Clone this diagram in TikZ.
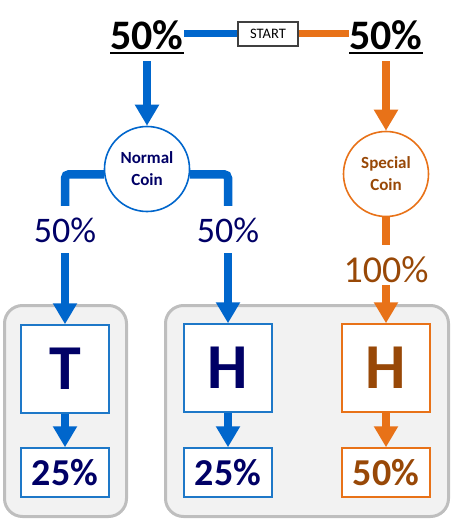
\documentclass[tikz,border=0pt]{standalone}
\usepackage{fontspec}
\setmainfont{Carlito}
\usetikzlibrary{arrows.meta}
\definecolor{cblue}{RGB}{0,102,204}
\definecolor{corange}{RGB}{232,114,24}
\definecolor{cnavy}{RGB}{0,0,102}
\definecolor{cbrown}{RGB}{152,72,7}
\definecolor{boxblue}{RGB}{30,120,200}
\definecolor{panelfill}{RGB}{242,242,242}
\definecolor{paneldraw}{RGB}{190,190,190}
\begin{document}
\begin{tikzpicture}[x=1pt,y=-1pt,
  panel/.style={draw=paneldraw, fill=panelfill, line width=3pt, rounded corners=18pt, inner sep=0pt},
  bigpct/.style={font=\fontsize{42}{44}\selectfont\bfseries, inner xsep=0pt, inner ysep=3pt, text height=27pt, text depth=0pt, anchor=base},
  uline/.style={line width=2.5pt, black},
  startbox/.style={draw=black!75, line width=1.2pt, fill=white, minimum width=60pt, minimum height=24pt, inner sep=0pt, font=\fontsize{14.5}{16}\selectfont},
  coin/.style={circle, line width=1.6pt, fill=white, minimum size=85pt, inner sep=0pt, font=\fontsize{17}{22}\selectfont\bfseries, align=center},
  midpct/.style={font=\fontsize{36}{40}\selectfont, inner sep=0pt, text height=24pt, text depth=0pt, anchor=base},
  outbox/.style={line width=1.5pt, fill=white, minimum width=88pt, minimum height=88pt, inner sep=0pt, font=\fontsize{64}{66}\selectfont\bfseries},
  pctbox/.style={line width=1.5pt, fill=white, minimum width=88pt, minimum height=49pt, inner sep=0pt, font=\fontsize{38}{40}\selectfont\bfseries},
  conn/.style={line width=8.5pt},
  arr/.style={line width=8.5pt, -{Triangle[width=23pt,length=21pt]}},
]
\useasboundingbox (0,0) rectangle (451,521);

% panels
\node[panel, minimum width=122pt, minimum height=211pt] (panelL) at (65.5,411) {};
\node[panel, minimum width=283pt, minimum height=211pt] (panelR) at (307,411) {};

% top row
\node[startbox] (start) at (268,34) {START};
\node[bigpct] (top50L) at (147,50) {50\%};
\node[bigpct] (top50R) at (386,50) {50\%};
\draw[uline] (top50L.south west) -- (top50L.south east);
\draw[uline] (top50R.south west) -- (top50R.south east);
\draw[line width=7pt, cblue] (start.west) -- (start.west -| top50L.east);
\draw[line width=7pt, corange] (start.east) -- (start.east -| top50R.west);

% coins
\node[coin, draw=cblue, text=cnavy] (ncoin) at (147,169) {Normal\\Coin};
\node[coin, draw=corange, text=cbrown] (scoin) at (386,174) {Special\\Coin};
\draw[arr, cblue] ([yshift=-8pt]top50L.south) -- (ncoin.north);
\draw[arr, corange] ([yshift=-8pt]top50R.south) -- (scoin.north);

% branch labels
\node[midpct, text=cnavy] (lab50L) at (65,242) {50\%};
\node[midpct, text=cnavy] (lab50R) at (228,242) {50\%};
\node[midpct, text=cbrown, font=\fontsize{38}{42}\selectfont, text height=27pt] (lab100) at (386,282) {100\%};

\draw[conn, cblue, rounded corners=4pt] (ncoin.187) -| ([yshift=12pt]lab50L.north);
\draw[conn, cblue, rounded corners=4pt] (ncoin.353) -| ([yshift=12pt]lab50R.north);
\draw[conn, corange] (scoin.south) -- ([yshift=10pt]lab100.north);

% outcome boxes
\node[outbox, draw=boxblue, text=cnavy] (tbox) at (65,369) {T};
\node[outbox, draw=boxblue, text=cnavy] (hbox1) at (228,368) {H};
\node[outbox, draw=corange, text=cbrown] (hbox2) at (386,368) {H};
\node[pctbox, draw=boxblue, text=cnavy] (pctL) at (65,472.5) {25\%};
\node[pctbox, draw=boxblue, text=cnavy] (pctM) at (228,472.5) {25\%};
\node[pctbox, draw=corange, text=cbrown] (pctR) at (386,472.5) {50\%};

\draw[arr, cblue] ([yshift=-11pt]lab50L.south) -- (tbox.north);
\draw[arr, cblue] ([yshift=-11pt]lab50R.south) -- (hbox1.north);
\draw[arr, corange] ([yshift=-3pt]lab100.south) -- (hbox2.north);

\draw[arr, cblue] (tbox.south) -- (pctL.north);
\draw[arr, cblue] (hbox1.south) -- (pctM.north);
\draw[arr, corange] (hbox2.south) -- (pctR.north);
\end{tikzpicture}
\end{document}
